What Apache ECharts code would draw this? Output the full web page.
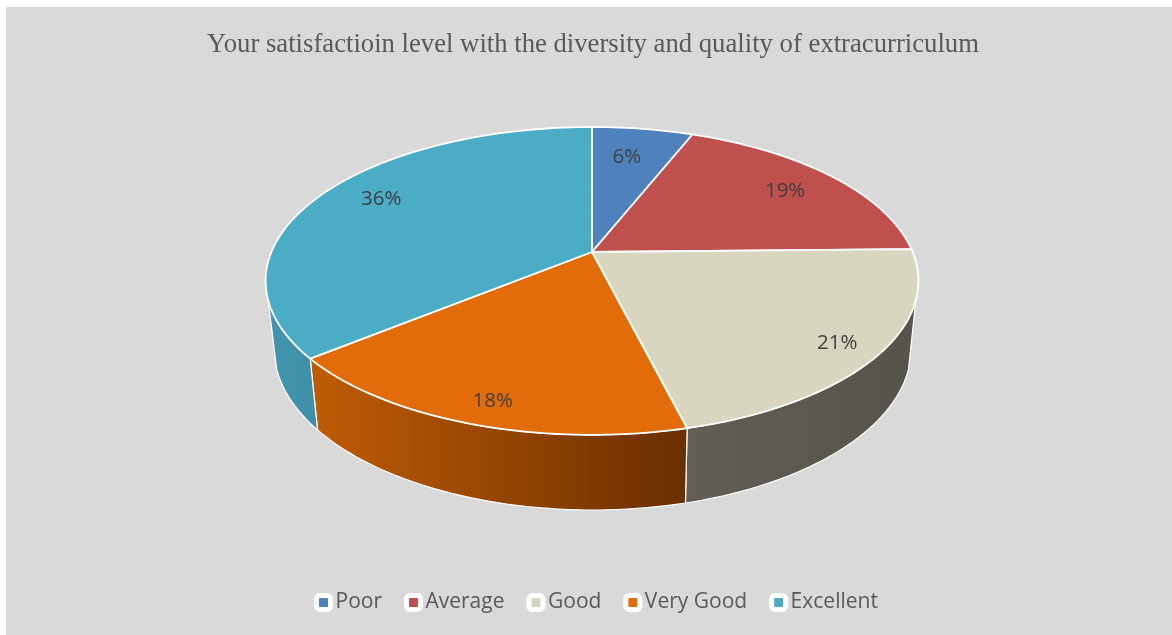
<!DOCTYPE html>
<html><head><meta charset="utf-8">
<style>html,body{margin:0;padding:0;background:#fff}#c{width:1172px;height:635px}</style>
<script src="https://cdn.jsdelivr.net/npm/echarts@6/dist/echarts.min.js"></script>
</head><body><div id="c"></div>
<script>
const titleText = 'Your satisfactioin level with the diversity and quality of extracurriculum';
const categories = ['Poor', 'Average', 'Good', 'Very Good', 'Excellent'];
const shares = [6.0, 18.7, 21.4, 18.0, 35.9];
const topColors = ['#4f81bd', '#c0504d', '#d9d6c0', '#e26b0a', '#4bacc6'];
const wallFrom = ['#3f6897', '#9a403e', '#625e55', '#c05c05', '#4196af'];
const wallTo = ['#3f6897', '#9a403e', '#56534a', '#6a2f00', '#3d8fa7'];
const labelNudge = [[-7, 7], [-1, 2], [21, 12], [-5, 18], [7, -5]];

// projection of the tilted disc
const CX = 592, CY = 252, A = 320.6, B = 148.5, K = 0.188;
const BOTTOM = { cx: 592.6, cy: 318, bx: 0.976, by: 1.05 };
const WALL_START = 108, WALL_END = 252;
const rad = d => d * Math.PI / 180;
function proj(deg, r, floor) {
  const u = r * Math.sin(rad(deg)), v = -r * Math.cos(rad(deg)), w = 1 - K * v;
  return floor
    ? [BOTTOM.cx + BOTTOM.bx * A * u / w, BOTTOM.cy + BOTTOM.by * B * v / w]
    : [CX + A * u / w, CY + B * v / w];
}
function arc(a0, a1, r, floor) {
  const n = Math.max(2, Math.ceil(Math.abs(a1 - a0) / 1.5)), pts = [];
  for (let i = 0; i <= n; i++) pts.push(proj(a0 + (a1 - a0) * i / n, r, floor));
  return pts;
}
const total = shares.reduce((a, b) => a + b, 0);
function startAngle(i) {
  let s = 0; for (let j = 0; j < i; j++) s += shares[j];
  return s / total * 360;
}
function renderSlice(params, api) {
  const i = params.seriesIndex, val = api.value(0);
  const a0 = startAngle(i), a1 = a0 + val / total * 360, children = [];
  const w0 = Math.max(a0, WALL_START), w1 = Math.min(a1, WALL_END);
  if (w1 > w0) {
    const top = arc(w0, w1, 1, false), bot = arc(w1, w0, 1, true);
    const xs = top.concat(bot).map(p => p[0]);
    children.push({
      type: 'polygon', z2: 1,
      shape: { points: top.concat(bot) },
      style: {
        fill: { type: 'linear', global: true, x: Math.min.apply(null, xs), y: 0, x2: Math.max.apply(null, xs), y2: 0,
          colorStops: [{ offset: 0, color: wallFrom[i] }, { offset: 1, color: wallTo[i] }] },
        stroke: '#ffffff', lineWidth: 1.2, lineJoin: 'round'
      }
    });
  }
  children.push({
    type: 'polygon', z2: 2,
    shape: { points: [[CX, CY]].concat(arc(a0, a1, 1, false)) },
    style: { fill: topColors[i], stroke: '#ffffff', lineWidth: 1.8, lineJoin: 'round' }
  });
  const lp = proj((a0 + a1) / 2, 0.8, false);
  children.push({
    type: 'text', z2: 3,
    x: lp[0] + labelNudge[i][0], y: lp[1] + labelNudge[i][1],
    style: { text: Math.round(val) + '%', fill: '#404040', font: '20.5px "Open Sans"', align: 'center', verticalAlign: 'middle' }
  });
  return { type: 'group', children: children };
}
const chart = echarts.init(document.getElementById('c'), null, { renderer: 'canvas' });
chart.setOption({
  animation: false,
  backgroundColor: '#ffffff',
  title: {
    text: titleText, left: 588, top: 26, textAlign: 'center',
    textStyle: { fontFamily: '"Liberation Serif"', fontSize: 26.7, fontWeight: 'normal', color: '#595959' }
  },
  legend: {
    data: categories, left: 309, top: 587, icon: 'roundRect', itemWidth: 14, itemHeight: 14, itemGap: 22,
    itemStyle: { borderColor: '#ffffff', borderWidth: 5 },
    textStyle: { fontFamily: '"Open Sans"', fontSize: 21, color: '#595959', padding: [0, 0, 0, 0] }
  },
  graphic: [{ type: 'rect', z: -10, silent: true, shape: { x: 6, y: 7, width: 1166, height: 628 }, style: { fill: '#d9d9d9' } }],
  series: categories.map((name, i) => ({
    type: 'custom', name: name, coordinateSystem: 'none', silent: true,
    renderItem: renderSlice,
    data: [[shares[i]]],
    itemStyle: { color: topColors[i] }
  }))
});
</script></body></html>
